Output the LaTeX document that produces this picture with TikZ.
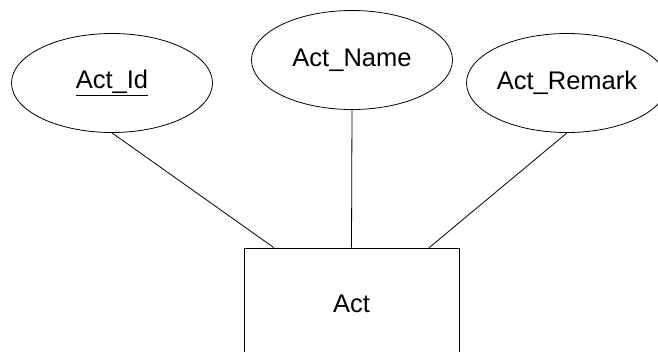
\documentclass[tikz,border=0pt]{standalone}
\usepackage{fontspec}
\setmainfont{Liberation Sans}
\usetikzlibrary{shapes.geometric}
\usetikzlibrary{positioning}
\usetikzlibrary{calc}

\begin{document}
\begin{tikzpicture}[
                x=1pt,
                y=-1pt,
                line width=0.8pt,
                attr/.style={
                        draw,
                        ellipse,
                        inner sep=0pt,
                        minimum width=201pt,
                        minimum height=99pt,
                        font=\fontsize{25.5}{30}\selectfont
                    },
                entity/.style={
                        draw,
                        rectangle,
                        minimum width=215pt,
                        minimum height=112pt,
                        font=\fontsize{25.5}{30}\selectfont
                    }
            ]
            \clip (0,0) rectangle (658,351);

            % Entity
            \node[entity] (act) at (351.5,304) {Act};

            % Attributes
            \node[attr] (actid) at (112,83) {\underline{Act\_Id}};
            \node[attr] (actname) at (352,60) {Act\_Name};
            \node[attr] (actremark) at (567,83) {Act\_Remark};

            % Links between attributes and entity
            \draw (actid.south) -- ($(act.north west)!0.14!(act.north east)$);
            \draw (actname.south) -- (act.north);
            \draw (actremark.south) -- ($(act.north west)!0.86!(act.north east)$);

        \end{tikzpicture}
\end{document}
